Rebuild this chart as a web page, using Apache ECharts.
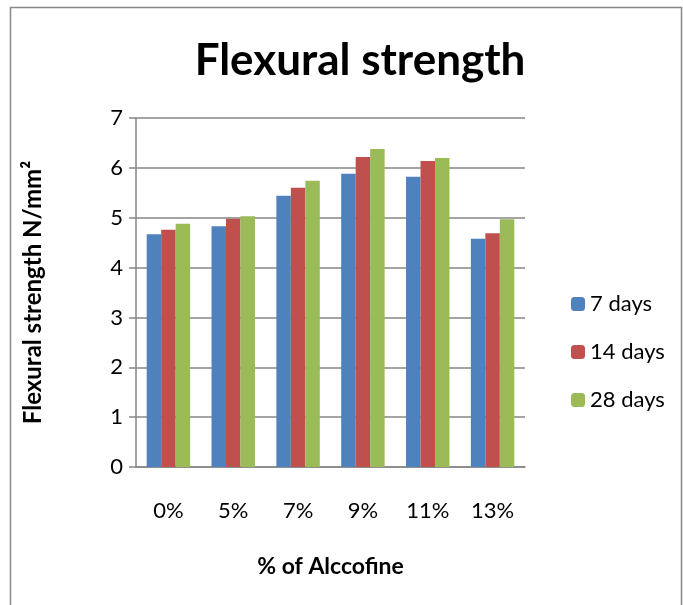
<!DOCTYPE html>
<html><head><meta charset="utf-8">
<script src="https://cdn.jsdelivr.net/npm/echarts@6/dist/echarts.min.js"></script>
<style>html,body{margin:0;padding:0;background:#fff}#c{width:683px;height:605px}</style>
</head><body><div id="c"></div>
<script>
const categories = ['0%', '5%', '7%', '9%', '11%', '13%'];
const days7 = [4.67, 4.83, 5.44, 5.88, 5.82, 4.58];
const days14 = [4.76, 4.98, 5.60, 6.22, 6.14, 4.69];
const days28 = [4.88, 5.03, 5.74, 6.38, 6.20, 4.97];
const seriesNames = ['7 days', '14 days', '28 days'];
const colors = ['#4f81bd', '#c0504d', '#9bbb59'];
const font = 'Lato, "Open Sans", sans-serif';
const chart = echarts.init(document.getElementById('c'), null, {renderer: 'canvas'});
chart.setOption({
  animation: false,
  graphic: [{type: 'rect', shape: {x: 10.5, y: 7.5, width: 671, height: 610}, style: {fill: 'none', stroke: '#888', lineWidth: 1.5}}],
  title: {text: 'Flexural strength', left: 355, top: 34, textAlign: 'center',
    textStyle: {fontFamily: font, fontWeight: 'bold', fontSize: 44, color: '#000'}},
  legend: {orient: 'vertical', left: 566, top: 288, itemWidth: 14, itemHeight: 14, itemGap: 26,
    textStyle: {fontFamily: font, fontSize: 22, color: '#000'},
    data: seriesNames},
  grid: {left: 136, top: 118, width: 389, height: 349},
  xAxis: {type: 'category', data: categories,
    name: '% of Alccofine', nameLocation: 'middle', nameGap: 88,
    nameTextStyle: {fontFamily: font, fontWeight: 'bold', fontSize: 23, color: '#000'},
    axisLine: {lineStyle: {color: '#868686', width: 1.5}},
    axisTick: {show: false},
    axisLabel: {fontFamily: font, fontSize: 22, color: '#000', margin: 33}},
  yAxis: {type: 'value', min: 0, max: 7, interval: 1,
    name: 'Flexural strength N/mm²', nameLocation: 'middle', nameGap: 91, nameRotate: 90,
    nameTextStyle: {fontFamily: font, fontWeight: 'bold', fontSize: 24, color: '#000'},
    axisLine: {show: true, lineStyle: {color: '#868686', width: 1.5}},
    axisTick: {show: true, length: 7, lineStyle: {color: '#868686', width: 1.5}},
    splitLine: {lineStyle: {color: '#868686', width: 1.5}},
    axisLabel: {fontFamily: font, fontSize: 22, color: '#000', margin: 13}},
  series: [days7, days14, days28].map((d, i) => ({
    name: seriesNames[i], type: 'bar', data: d, barGap: '0%', barCategoryGap: '33%',
    itemStyle: {color: colors[i]}
  }))
});
</script></body></html>
